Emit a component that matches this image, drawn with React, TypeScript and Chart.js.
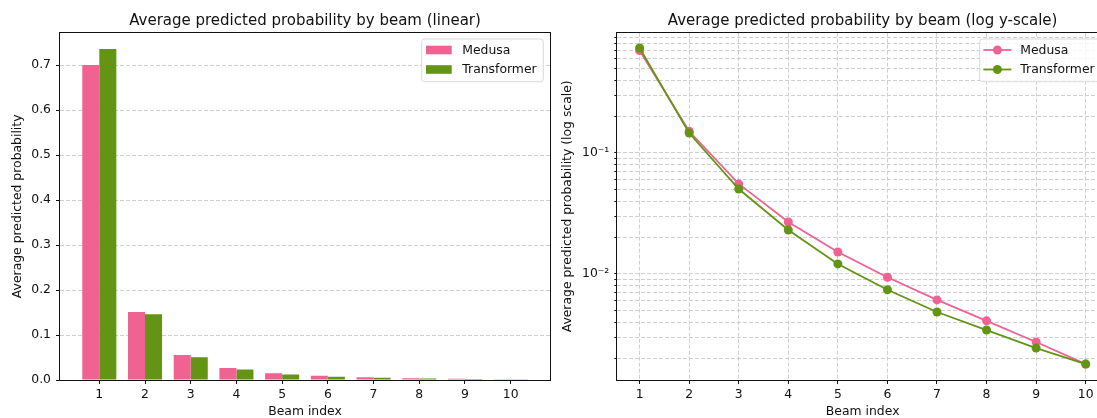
import React, { useEffect, useRef } from "react";
import { Chart, registerables } from "chart.js";

Chart.register(...registerables);

// ---- data ----
const beams = [1, 2, 3, 4, 5, 6, 7, 8, 9, 10];
const medusa = [0.7, 0.151, 0.0555, 0.0269, 0.0152, 0.0094, 0.0061, 0.0041, 0.00274, 0.0018];
const transformer = [0.736, 0.146, 0.0503, 0.0231, 0.0121, 0.0074, 0.00485, 0.00344, 0.00244, 0.0018];
const seriesNames = ["Medusa", "Transformer"];
const linearTicks = [0, 0.1, 0.2, 0.3, 0.4, 0.5, 0.6, 0.7];
const logGrid = [
  0.002, 0.003, 0.004, 0.005, 0.006, 0.007, 0.008, 0.009,
  0.01, 0.02, 0.03, 0.04, 0.05, 0.06, 0.07, 0.08, 0.09,
  0.1, 0.2, 0.3, 0.4, 0.5, 0.6, 0.7, 0.8, 0.9,
];
const logLabels: Record<string, string> = { "0.1": "10⁻¹", "0.01": "10⁻²" };

const titles = [
  "Average predicted probability by beam (linear)",
  "Average predicted probability by beam (log y-scale)",
];
const yTitles = ["Average predicted probability", "Average predicted probability (log scale)"];
const xTitle = "Beam index";

// ---- style ----
const FONT = "'DejaVu Sans', sans-serif";
const PINK = "#f06292";
const GREEN = "#649414";
const GRID = "#cfcfcf";
const INK = "#111111";
const TICK_SIZE = 12.4;

function drawFrameAndTitle(chart: any, title: string) {
  const { ctx, chartArea: a } = chart;
  ctx.save();
  ctx.strokeStyle = INK;
  ctx.lineWidth = 1;
  const l = Math.round(a.left) - 0.5;
  const r = Math.round(a.right) + 0.5;
  const t = Math.round(a.top) - 0.5;
  const b = Math.round(a.bottom) + 0.5;
  ctx.strokeRect(l, t, r - l, b - t);
  ctx.fillStyle = INK;
  ctx.font = `15px ${FONT}`;
  ctx.textAlign = "center";
  ctx.textBaseline = "alphabetic";
  ctx.fillText(title, (a.left + a.right) / 2, 25);
  ctx.restore();
}

function drawLegend(chart: any, kind: "patch" | "line") {
  const { ctx, chartArea: a } = chart;
  const w = 121.6;
  const h = 42.7;
  const right = a.right - 6.7;
  const left = right - w;
  const top = a.top + 6.3;
  ctx.save();
  ctx.beginPath();
  const rr = 3;
  ctx.moveTo(left + rr, top);
  ctx.arcTo(right, top, right, top + h, rr);
  ctx.arcTo(right, top + h, left, top + h, rr);
  ctx.arcTo(left, top + h, left, top, rr);
  ctx.arcTo(left, top, right, top, rr);
  ctx.closePath();
  ctx.fillStyle = "rgba(255,255,255,0.8)";
  ctx.fill();
  ctx.strokeStyle = "#d9d9d9";
  ctx.lineWidth = 1;
  ctx.stroke();
  const colors = [PINK, GREEN];
  const ys = [top + 11, top + 30.5];
  seriesNames.forEach((name, i) => {
    const y = ys[i];
    ctx.fillStyle = colors[i];
    ctx.strokeStyle = colors[i];
    if (kind === "patch") {
      ctx.fillRect(left + 4.3, y - 4.3, 25.7, 8.6);
    } else {
      ctx.lineWidth = 1.8;
      ctx.beginPath();
      ctx.moveTo(left + 3.7, y);
      ctx.lineTo(left + 31.7, y);
      ctx.stroke();
      ctx.beginPath();
      ctx.arc(left + 17.7, y, 4.5, 0, Math.PI * 2);
      ctx.fill();
    }
    ctx.fillStyle = INK;
    ctx.font = `${TICK_SIZE}px ${FONT}`;
    ctx.textAlign = "left";
    ctx.textBaseline = "middle";
    ctx.fillText(name, left + 40.6, y + 0.5);
  });
  ctx.restore();
}

const tickFont = { family: FONT, size: TICK_SIZE };

export default function App() {
  const leftRef = useRef<HTMLCanvasElement>(null);
  const rightRef = useRef<HTMLCanvasElement>(null);

  useEffect(() => {
    const left = new Chart(leftRef.current!, {
      type: "bar",
      data: {
        datasets: [
          {
            label: seriesNames[0],
            data: beams.map((b, i) => ({ x: b, y: medusa[i] })),
            backgroundColor: PINK,
            borderWidth: 0,
            categoryPercentage: 0.745,
            barPercentage: 1,
          },
          {
            label: seriesNames[1],
            data: beams.map((b, i) => ({ x: b, y: transformer[i] })),
            backgroundColor: GREEN,
            borderWidth: 0,
            categoryPercentage: 0.745,
            barPercentage: 1,
          },
        ],
      } as any,
      options: {
        animation: false,
        responsive: false,
        devicePixelRatio: 1,
        layout: { padding: { top: 32.7, right: 10, left: 0, bottom: 0 } },
        plugins: { legend: { display: false }, tooltip: { enabled: false }, title: { display: false } },
        scales: {
          x: {
            type: "linear",
            min: 0.14,
            max: 10.86,
            offset: false,
            afterBuildTicks: (ax: any) => {
              ax.ticks = beams.map((v) => ({ value: v }));
            },
            afterFit: (s: any) => {
              s.height = 38;
            },
            grid: { offset: false, drawOnChartArea: false, drawTicks: true, tickLength: 4, tickColor: INK, tickWidth: 1 },
            border: { display: false },
            ticks: { autoSkip: false, maxRotation: 0, padding: 3, color: INK, font: tickFont, callback: (v: any) => String(v) },
            title: { display: true, text: xTitle, color: INK, font: tickFont, padding: { top: 0, bottom: -1.5 } },
          },
          y: {
            type: "linear",
            min: 0,
            max: 0.772,
            afterBuildTicks: (ax: any) => {
              ax.ticks = linearTicks.map((v) => ({ value: v }));
            },
            afterFit: (s: any) => {
              s.width = 60;
            },
            grid: { color: GRID, lineWidth: 1, drawTicks: true, tickLength: 4, tickColor: INK, tickWidth: 1, tickBorderDash: [] },
            border: { display: false, dash: [4, 2] },
            ticks: { autoSkip: false, padding: 5, color: INK, font: tickFont, callback: (v: any) => Number(v).toFixed(1) },
            title: { display: true, text: yTitles[0], color: INK, font: tickFont, padding: { top: 10.6, bottom: 0 } },
          },
        },
      } as any,
      plugins: [
        {
          id: "decor",
          afterDraw: (c: any) => {
            drawFrameAndTitle(c, titles[0]);
            drawLegend(c, "patch");
          },
        },
      ],
    });

    const right = new Chart(rightRef.current!, {
      type: "line",
      data: {
        datasets: [
          {
            label: seriesNames[0],
            data: beams.map((b, i) => ({ x: b, y: medusa[i] })),
            borderColor: PINK,
            backgroundColor: PINK,
            pointBackgroundColor: PINK,
            pointBorderColor: PINK,
            pointRadius: 4.5,
            pointBorderWidth: 0,
            borderWidth: 1.8,
            tension: 0,
            order: 1,
          },
          {
            label: seriesNames[1],
            data: beams.map((b, i) => ({ x: b, y: transformer[i] })),
            borderColor: GREEN,
            backgroundColor: GREEN,
            pointBackgroundColor: GREEN,
            pointBorderColor: GREEN,
            pointRadius: 4.5,
            pointBorderWidth: 0,
            borderWidth: 1.8,
            tension: 0,
            order: 0,
          },
        ],
      } as any,
      options: {
        animation: false,
        responsive: false,
        devicePixelRatio: 1,
        layout: { padding: { top: 32.7, right: 10, left: 0, bottom: 0 } },
        plugins: { legend: { display: false }, tooltip: { enabled: false }, title: { display: false } },
        scales: {
          x: {
            type: "linear",
            min: 0.55,
            max: 10.45,
            afterBuildTicks: (ax: any) => {
              ax.ticks = beams.map((v) => ({ value: v }));
            },
            afterFit: (s: any) => {
              s.height = 38;
            },
            grid: { color: GRID, lineWidth: 1, drawOnChartArea: true, drawTicks: true, tickLength: 4, tickColor: INK, tickWidth: 1, tickBorderDash: [] },
            border: { display: false, dash: [4, 2] },
            ticks: { autoSkip: false, maxRotation: 0, padding: 3, color: INK, font: tickFont, callback: (v: any) => String(v) },
            title: { display: true, text: xTitle, color: INK, font: tickFont, padding: { top: 0, bottom: -1.5 } },
          },
          y: {
            type: "logarithmic",
            min: 0.00133,
            max: 0.985,
            afterBuildTicks: (ax: any) => {
              ax.ticks = logGrid.map((v) => ({ value: v }));
            },
            afterFit: (s: any) => {
              s.width = 61.3;
            },
            grid: { color: GRID, lineWidth: 1, drawTicks: true, tickLength: 3, tickColor: INK, tickWidth: 1, tickBorderDash: [] },
            border: { display: false, dash: [4, 2] },
            ticks: {
              autoSkip: false,
              padding: 5,
              color: INK,
              font: tickFont,
              callback: (v: any) => logLabels[String(v)] ?? "",
            },
            title: { display: true, text: yTitles[1], color: INK, font: tickFont, padding: { top: 4.6, bottom: 0 } },
          },
        },
      } as any,
      plugins: [
        {
          id: "decor",
          afterDraw: (c: any) => {
            drawFrameAndTitle(c, titles[1]);
            drawLegend(c, "line");
          },
        },
      ],
    });

    return () => {
      left.destroy();
      right.destroy();
    };
  }, []);

  return (
    <div
      style={{
        position: "fixed",
        left: 0,
        top: 0,
        width: 1097,
        height: 418,
        overflow: "hidden",
        background: "#ffffff",
      }}
    >
      <canvas
        ref={leftRef}
        width={560}
        height={418}
        style={{ position: "absolute", left: 0, top: 0, width: 560, height: 418 }}
      />
      <canvas
        ref={rightRef}
        width={562}
        height={418}
        style={{ position: "absolute", left: 556, top: 0, width: 562, height: 418 }}
      />
    </div>
  );
}
